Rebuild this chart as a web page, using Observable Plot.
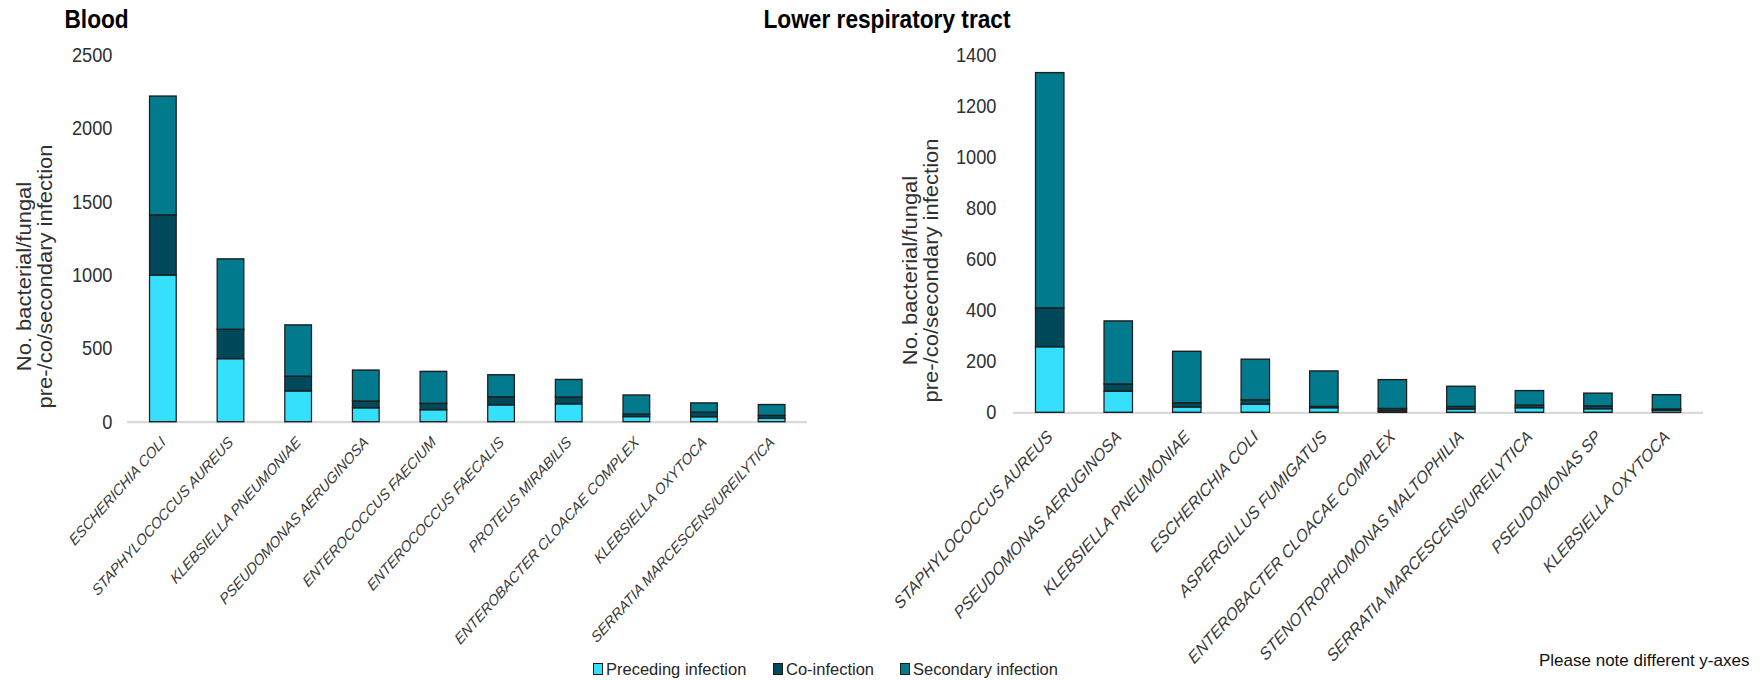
<!DOCTYPE html>
<html>
<head>
<meta charset="utf-8">
<script src="https://cdn.jsdelivr.net/npm/d3@7"></script>
<script src="https://cdn.jsdelivr.net/npm/@observablehq/plot@0.6"></script>
<style>
html, body { margin: 0; padding: 0; background: #fff; }
#wrap { position: relative; width: 1763px; height: 680px; overflow: hidden; font-family: "Liberation Sans", Arial, sans-serif; }
.lgitem { position: absolute; top: 659px; height: 20px; display: flex; align-items: center; font-size: 16.5px; color: #262626; white-space: nowrap; }
.lgsw { display: inline-block; width: 8px; height: 10px; border: 1px solid #1a1a1a; margin-right: 3px; }
.note { position: absolute; left: 1539px; top: 651px; font-size: 17px; color: #111; white-space: nowrap; line-height: 20px; }
</style>
</head>
<body>
<div id="wrap"></div>
<script>
// ---- data ----
const types = ["Preceding infection", "Co-infection", "Secondary infection"];
const typeColors = ["#35e0fd", "#00495a", "#007a8c"];

const bloodOrganisms = [
  "ESCHERICHIA COLI", "STAPHYLOCOCCUS AUREUS", "KLEBSIELLA PNEUMONIAE",
  "PSEUDOMONAS AERUGINOSA", "ENTEROCOCCUS FAECIUM", "ENTEROCOCCUS FAECALIS",
  "PROTEUS MIRABILIS", "ENTEROBACTER CLOACAE COMPLEX", "KLEBSIELLA OXYTOCA",
  "SERRATIA MARCESCENS/UREILYTICA"
];
const bloodPreceding = [1000, 430, 210, 95, 82, 115, 122, 35, 34, 23];
const bloodCo        = [410, 200, 100, 46, 43, 55, 46, 17, 31, 20];
const bloodSecondary = [810, 480, 350, 211, 218, 150, 120, 130, 63, 74];
const bloodTicks = [0, 500, 1000, 1500, 2000, 2500];

const respOrganisms = [
  "STAPHYLOCOCCUS AUREUS", "PSEUDOMONAS AERUGINOSA", "KLEBSIELLA PNEUMONIAE",
  "ESCHERICHIA COLI", "ASPERGILLUS FUMIGATUS", "ENTEROBACTER CLOACAE COMPLEX",
  "STENOTROPHOMONAS MALTOPHILIA", "SERRATIA MARCESCENS/UREILYTICA",
  "PSEUDOMONAS SP", "KLEBSIELLA OXYTOCA"
];
const respPreceding = [257, 83, 21, 32, 18, 6, 13, 18, 14, 8];
const respCo        = [152, 28, 16, 17, 5, 9, 10, 10, 11, 5];
const respSecondary = [922, 247, 202, 159, 139, 113, 79, 57, 50, 56];
const respTicks = [0, 200, 400, 600, 800, 1000, 1200, 1400];

const bloodTitle = "Blood";
const respTitle = "Lower respiratory tract";
const yTitle = "No. bacterial/fungal\npre-/co/secondary infection";
const noteText = "Please note different y-axes";

// ---- helpers ----
const K = 0.89; // horizontal compression of the chart images
const FONT = "'Liberation Sans', Arial, sans-serif";

function tidy(orgs, a, b, c) {
  const series = [a, b, c];
  return orgs.flatMap((o, i) => types.map((t, j) => ({organism: o, type: t, value: series[j][i]})));
}

function panel(cfg) {
  const data = tidy(cfg.orgs, cfg.pre, cfg.co, cfg.sec);
  const width = cfg.svgWidth;
  const el = Plot.plot({
    width,
    height: 680,
    marginTop: 55,
    marginBottom: 680 - cfg.baseline,
    marginLeft: cfg.marginLeft,
    marginRight: width - cfg.plotRight,
    style: {fontFamily: FONT, background: "transparent", overflow: "visible"},
    x: {domain: cfg.orgs, paddingInner: cfg.padIn, paddingOuter: cfg.padIn / 2},
    y: {domain: [0, cfg.ticks[cfg.ticks.length - 1]]},
    color: {domain: types, range: typeColors},
    marks: [
      Plot.axisY({ticks: cfg.ticks, tickFormat: d => String(d), tickSize: 0, tickPadding: cfg.yPad, fontSize: 20.5, fill: "#303030", label: null}),
      Plot.axisX({tickRotate: -45, tickSize: 0, tickPadding: cfg.xPad, fontSize: cfg.labelSize, fontStyle: "italic", fill: "#383838", label: null}),
      Plot.ruleY([0], {stroke: "#d9d9d9", strokeWidth: 2.2}),
      Plot.barY(data, {x: "organism", y: "value", fill: "type", stroke: "#1e1e1e", strokeWidth: 1.4}),
      Plot.text([cfg.title], {frameAnchor: "top-left", dx: cfg.titleDx, dy: -27, textAnchor: "start", lineAnchor: "bottom", fontSize: 25.5, fontWeight: "bold", fill: "#000"}),
      Plot.text([yTitle], {frameAnchor: "left", rotate: -90, dx: cfg.yTitleDx, dy: cfg.yTitleDy, textAnchor: "middle", lineAnchor: "middle", lineHeight: 1.12, fontSize: 22, fill: "#303030"})
    ]
  });
  el.style.position = "absolute";
  el.style.left = cfg.left + "px";
  el.style.top = "0px";
  el.style.transform = `scaleX(${K})`;
  el.style.transformOrigin = "0 0";
  el.style.maxWidth = "none";
  el.style.background = "transparent";
  return el;
}

const wrap = document.getElementById("wrap");

// Blood panel (screen coords: plot x 127..807, baseline y 421.7)
wrap.appendChild(panel({
  orgs: bloodOrganisms, pre: bloodPreceding, co: bloodCo, sec: bloodSecondary,
  ticks: bloodTicks, title: bloodTitle,
  left: 0,
  svgWidth: 860 / K,
  marginLeft: 127 / K,
  plotRight: 807 / K,
  baseline: 421.7,
  padIn: 0.6,
  yPad: 15 / K,
  xPad: 17.5,
  labelSize: 15.5,
  titleDx: 64 / K - 127 / K,
  yTitleDx: 34 / K - 127 / K,
  yTitleDy: 276 - (55 + 421.7) / 2
}));

// Lower respiratory tract panel (screen coords: plot x 1013..1703, baseline y 412.3)
const L2 = 740;
wrap.appendChild(panel({
  orgs: respOrganisms, pre: respPreceding, co: respCo, sec: respSecondary,
  ticks: respTicks, title: respTitle,
  left: L2,
  svgWidth: (1763 - L2) / K,
  marginLeft: (1013 - L2) / K,
  plotRight: (1703 - L2) / K,
  baseline: 412.3,
  padIn: 0.58,
  yPad: 17 / K,
  xPad: 21,
  labelSize: 17.4,
  titleDx: (763 - 1013) / K,
  yTitleDx: (920 - 1013) / K,
  yTitleDy: 270 - (55 + 412.3) / 2
}));

// Legend (below the charts)
const legendX = [593, 773, 900];
types.forEach((t, i) => {
  const d = document.createElement("div");
  d.className = "lgitem";
  d.style.left = legendX[i] + "px";
  const sw = document.createElement("span");
  sw.className = "lgsw";
  sw.style.background = typeColors[i];
  d.appendChild(sw);
  d.appendChild(document.createTextNode(t));
  wrap.appendChild(d);
});

const note = document.createElement("div");
note.className = "note";
note.textContent = noteText;
wrap.appendChild(note);
</script>
</body>
</html>
